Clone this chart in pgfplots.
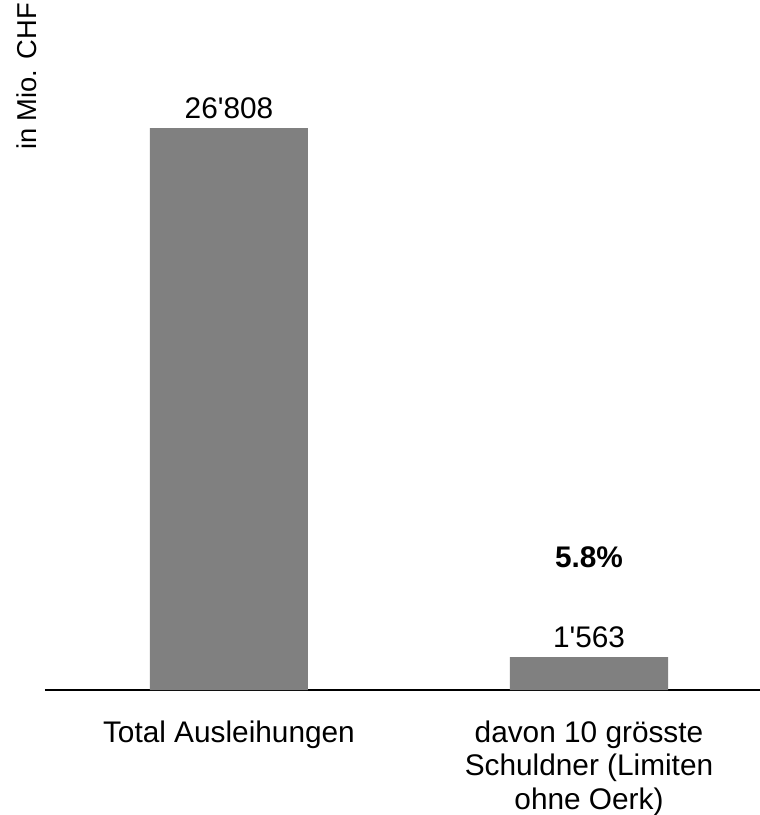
\documentclass[border=0pt]{standalone}
\usepackage{fontspec}
\setmainfont{Liberation Sans}[Ligatures=TeXOff]
\usepackage{pgfplots}
\pgfplotsset{compat=1.18}
\definecolor{bargray}{HTML}{808080}
\begin{document}
\begin{tikzpicture}
\useasboundingbox (-45pt,-125pt) rectangle (715pt,690pt);
\begin{axis}[
  at={(0,0)}, anchor=south west,
  width=715pt, height=680pt, scale only axis,
  xmin=-0.511, xmax=1.475,
  ymin=0, ymax=32437,
  axis x line*=bottom, axis y line=none,
  x axis line style={line width=1.6pt, black, -},
  xtick={0,1}, major tick length=0pt,
  xticklabels={Total Ausleihungen, {davon 10 grösste\\Schuldner (Limiten\\ohne Oerk)}},
  xticklabel style={align=center, font=\fontsize{29.8}{33.5}\selectfont, yshift=-27pt},
  ytick=\empty,
  nodes near coords,
  point meta=explicit symbolic,
  every node near coord/.append style={font=\fontsize{29.8}{34}\selectfont, black, yshift=6pt},
  clip=false,
]
\addplot[ybar, bar width=0.439, fill=bargray, draw=none] coordinates {
  (0,26808) [26'808]
  (1,1563) [1'563]
};
\node[font=\fontsize{29.8}{34}\selectfont\bfseries, anchor=base] at (axis cs:1,5820) {5.8\%};
\node[font=\fontsize{27.3}{32}\selectfont, rotate=90, anchor=base west, inner sep=0pt] at (rel axis cs:-0.0112,0.794) {in Mio. CHF};
\end{axis}
\end{tikzpicture}
\end{document}
